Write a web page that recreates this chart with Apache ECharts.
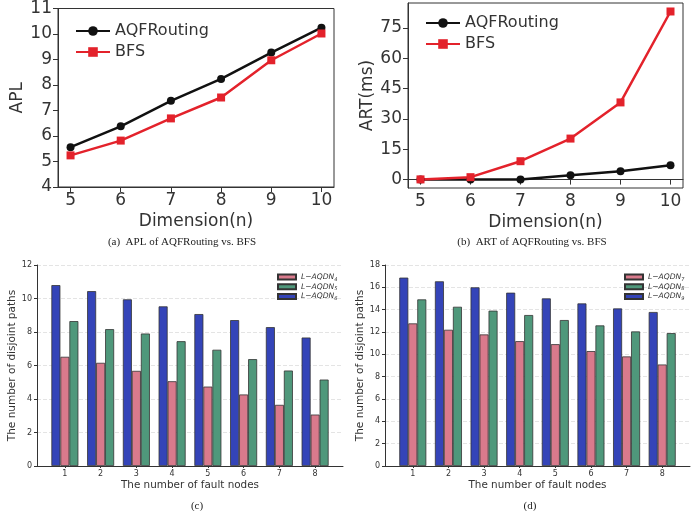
<!DOCTYPE html>
<html lang="en">
<head>
    <meta charset="UTF-8">
    <title>AQFRouting vs. BFS, disjoint paths</title>
    <script src="https://cdn.jsdelivr.net/npm/echarts@6/dist/echarts.min.js"></script>
    <style>
        html, body { margin: 0; padding: 0; background: #fff; }
        #container { width: 700px; height: 511px; }
    </style>
</head>
<body>
<div id="container"></div>
<script type="text/javascript">
    // ---- data ----
    const dims = [5, 6, 7, 8, 9, 10];
    const aplAqf = [5.56, 6.38, 7.38, 8.24, 9.27, 10.25];
    const aplBfs = [5.24, 5.82, 6.69, 7.51, 8.97, 10.02];
    const artAqf = [0.0, 0.1, 0.1, 2.1, 4.1, 7.1];
    const artBfs = [0.1, 1.2, 9.1, 20.3, 38.2, 83.2];
    const artTicks = [0, 15, 30, 45, 60, 75];

    const faults = [1, 2, 3, 4, 5, 6, 7, 8];
    const cAqdn4 = [6.52, 6.16, 5.68, 5.06, 4.74, 4.27, 3.65, 3.07];
    const cAqdn5 = [8.65, 8.17, 7.91, 7.45, 6.94, 6.38, 5.70, 5.16];
    const cAqdn6 = [10.80, 10.44, 9.95, 9.53, 9.07, 8.71, 8.29, 7.67];
    const dAqdn7 = [12.77, 12.20, 11.78, 11.18, 10.91, 10.29, 9.81, 9.09];
    const dAqdn8 = [14.92, 14.26, 13.91, 13.52, 13.07, 12.59, 12.05, 11.90];
    const dAqdn9 = [16.87, 16.54, 16.00, 15.52, 15.01, 14.56, 14.11, 13.79];

    const sans = 'DejaVu Sans';
    const serif = 'Liberation Serif';
    const pink = '#d97a8c', green = '#4f987b', blue = '#3444b8';

    function pairs(xs, ys) {
        return xs.map((x, i) => [x, ys[i]]);
    }

    // 上面两个折线图的坐标轴
    function lineX(grid, lbl) {
        return {
            type: 'value', gridIndex: grid, min: 4.75, max: 10.25,
            name: lbl, nameLocation: 'middle', nameGap: 26,
            nameTextStyle: {fontFamily: sans, fontSize: 17, color: '#333'},
            axisLine: {lineStyle: {color: '#333', width: 1}},
            axisTick: {customValues: dims, length: 5, lineStyle: {color: '#333'}},
            axisLabel: {customValues: dims, fontFamily: sans, fontSize: 17, color: '#333', margin: 5},
            splitLine: {show: false}
        };
    }

    function barX(grid) {
        return {
            type: 'value', gridIndex: grid, min: 0.22, max: 8.78,
            name: 'The number of fault nodes', nameLocation: 'middle', nameGap: 14,
            nameTextStyle: {fontFamily: sans, fontSize: 10.4, color: '#333'},
            axisLine: {lineStyle: {color: '#333', width: 1}},
            axisTick: {customValues: faults, length: 2, lineStyle: {color: '#333'}},
            axisLabel: {customValues: faults, fontFamily: sans, fontSize: 8, color: '#333', margin: 4},
            splitLine: {show: false}
        };
    }

    function barY(grid, max) {
        return {
            type: 'value', gridIndex: grid, min: 0, max: max, interval: 2,
            name: 'The number of disjoint paths', nameLocation: 'middle', nameGap: 19,
            nameTextStyle: {fontFamily: sans, fontSize: 10.5, color: '#333'},
            axisLine: {show: true, lineStyle: {color: '#333', width: 1}},
            axisTick: {show: true, length: 3, lineStyle: {color: '#333'}},
            axisLabel: {fontFamily: sans, fontSize: 8, color: '#333', margin: 5},
            splitLine: {show: true, lineStyle: {color: '#e4e4e4', type: 'dashed', width: 1}}
        };
    }

    function barSeries(name, grid, ys, color) {
        return {
            name: name, type: 'bar', xAxisIndex: grid, yAxisIndex: grid,
            data: pairs(faults, ys), barWidth: 9, barGap: '0%',
            itemStyle: {color: color, borderColor: '#333', borderWidth: 0.8},
            emphasis: {disabled: true}
        };
    }

    function subName(name) {
        return '{i|L\u2212AQDN}{s|' + name.slice(-1) + '}';
    }

    function barLegend(left, names) {
        return {
            show: true, orient: 'vertical', left: left, top: 268, itemGap: 1,
            itemWidth: 18, itemHeight: 5, icon: 'rect',
            data: names, formatter: subName,
            textStyle: {
                color: '#333',
                rich: {
                    i: {fontFamily: sans, fontStyle: 'italic', fontSize: 7.6, color: '#333', lineHeight: 9.5},
                    s: {fontFamily: sans, fontStyle: 'italic', fontSize: 5, color: '#333', verticalAlign: 'bottom', lineHeight: 9.5, padding: [2, 0, 0, 0]}
                }
            }
        };
    }

    let dom = document.getElementById('container');
    let myChart = echarts.init(dom, null, {renderer: 'canvas'});

    let option = {
        animation: false,
        backgroundColor: '#fff',
        textStyle: {fontFamily: sans},
        grid: [
            {left: 58, top: 7, width: 276, height: 180, show: true, borderColor: '#333', borderWidth: 1},
            {left: 408, top: 3, width: 275, height: 185, show: true, borderColor: '#333', borderWidth: 1},
            {left: 37, top: 265, width: 306, height: 201},
            {left: 385, top: 265, width: 305, height: 201}
        ],
        title: [
            {text: '(a)  APL of AQFRouting vs. BFS', left: 177, top: 232, textAlign: 'center',
                textStyle: {fontFamily: serif, fontSize: 11, fontWeight: 'normal', color: '#222'}},
            {text: '(b)  ART of AQFRouting vs. BFS', left: 527, top: 232, textAlign: 'center',
                textStyle: {fontFamily: serif, fontSize: 11, fontWeight: 'normal', color: '#222'}},
            {text: '(c)', left: 192, top: 496, textAlign: 'center',
                textStyle: {fontFamily: serif, fontSize: 11, fontWeight: 'normal', color: '#222'}},
            {text: '(d)', left: 525, top: 496, textAlign: 'center',
                textStyle: {fontFamily: serif, fontSize: 11, fontWeight: 'normal', color: '#222'}}
        ],
        legend: [
            {orient: 'vertical', left: 70, top: 18, itemGap: 5, itemWidth: 34, itemHeight: 12,
                data: ['AQFRouting', 'BFS'],
                textStyle: {fontFamily: sans, fontSize: 16, color: '#333'}},
            {orient: 'vertical', left: 420, top: 10, itemGap: 5, itemWidth: 34, itemHeight: 12,
                data: ['AQFRouting ', 'BFS '],
                textStyle: {fontFamily: sans, fontSize: 16, color: '#333'}},
            barLegend(272, ['L-AQDN4', 'L-AQDN5', 'L-AQDN6']),
            barLegend(619, ['L-AQDN7', 'L-AQDN8', 'L-AQDN9'])
        ],
        xAxis: [lineX(0, 'Dimension(n)'), lineX(1, 'Dimension(n)'), barX(2), barX(3)],
        yAxis: [
            {
                type: 'value', gridIndex: 0, min: 4, max: 11, interval: 1,
                name: 'APL', nameLocation: 'middle', nameGap: 27,
                nameTextStyle: {fontFamily: sans, fontSize: 17, color: '#333'},
                axisLine: {lineStyle: {color: '#333'}},
                axisTick: {length: 5, lineStyle: {color: '#333'}},
                axisLabel: {fontFamily: sans, fontSize: 17, color: '#333', margin: 6},
                splitLine: {show: false}
            },
            {
                type: 'value', gridIndex: 1, min: -4.16, max: 87.4,
                name: 'ART(ms)', nameLocation: 'middle', nameGap: 29,
                nameTextStyle: {fontFamily: sans, fontSize: 17, color: '#333'},
                axisLine: {lineStyle: {color: '#333'}},
                axisTick: {customValues: artTicks, length: 5, lineStyle: {color: '#333'}},
                axisLabel: {customValues: artTicks, fontFamily: sans, fontSize: 17, color: '#333', margin: 6},
                splitLine: {show: false}
            },
            barY(2, 12),
            barY(3, 18)
        ],
        series: [
            {name: 'AQFRouting', type: 'line', xAxisIndex: 0, yAxisIndex: 0, data: pairs(dims, aplAqf),
                symbol: 'circle', symbolSize: 8, color: '#111', lineStyle: {width: 2.5}},
            {name: 'BFS', type: 'line', xAxisIndex: 0, yAxisIndex: 0, data: pairs(dims, aplBfs),
                symbol: 'rect', symbolSize: 8, color: '#e3222b', lineStyle: {width: 2.5}},
            {name: 'AQFRouting ', type: 'line', xAxisIndex: 1, yAxisIndex: 1, data: pairs(dims, artAqf),
                symbol: 'circle', symbolSize: 8, color: '#111', lineStyle: {width: 2.5}},
            {name: 'BFS ', type: 'line', xAxisIndex: 1, yAxisIndex: 1, data: pairs(dims, artBfs),
                symbol: 'rect', symbolSize: 8, color: '#e3222b', lineStyle: {width: 2.5}},
            // 柱子顺序: 蓝, 粉, 绿
            barSeries('L-AQDN6', 2, cAqdn6, blue),
            barSeries('L-AQDN4', 2, cAqdn4, pink),
            barSeries('L-AQDN5', 2, cAqdn5, green),
            barSeries('L-AQDN9', 3, dAqdn9, blue),
            barSeries('L-AQDN7', 3, dAqdn7, pink),
            barSeries('L-AQDN8', 3, dAqdn8, green)
        ]
    };

    myChart.setOption(option);
</script>
</body>
</html>
